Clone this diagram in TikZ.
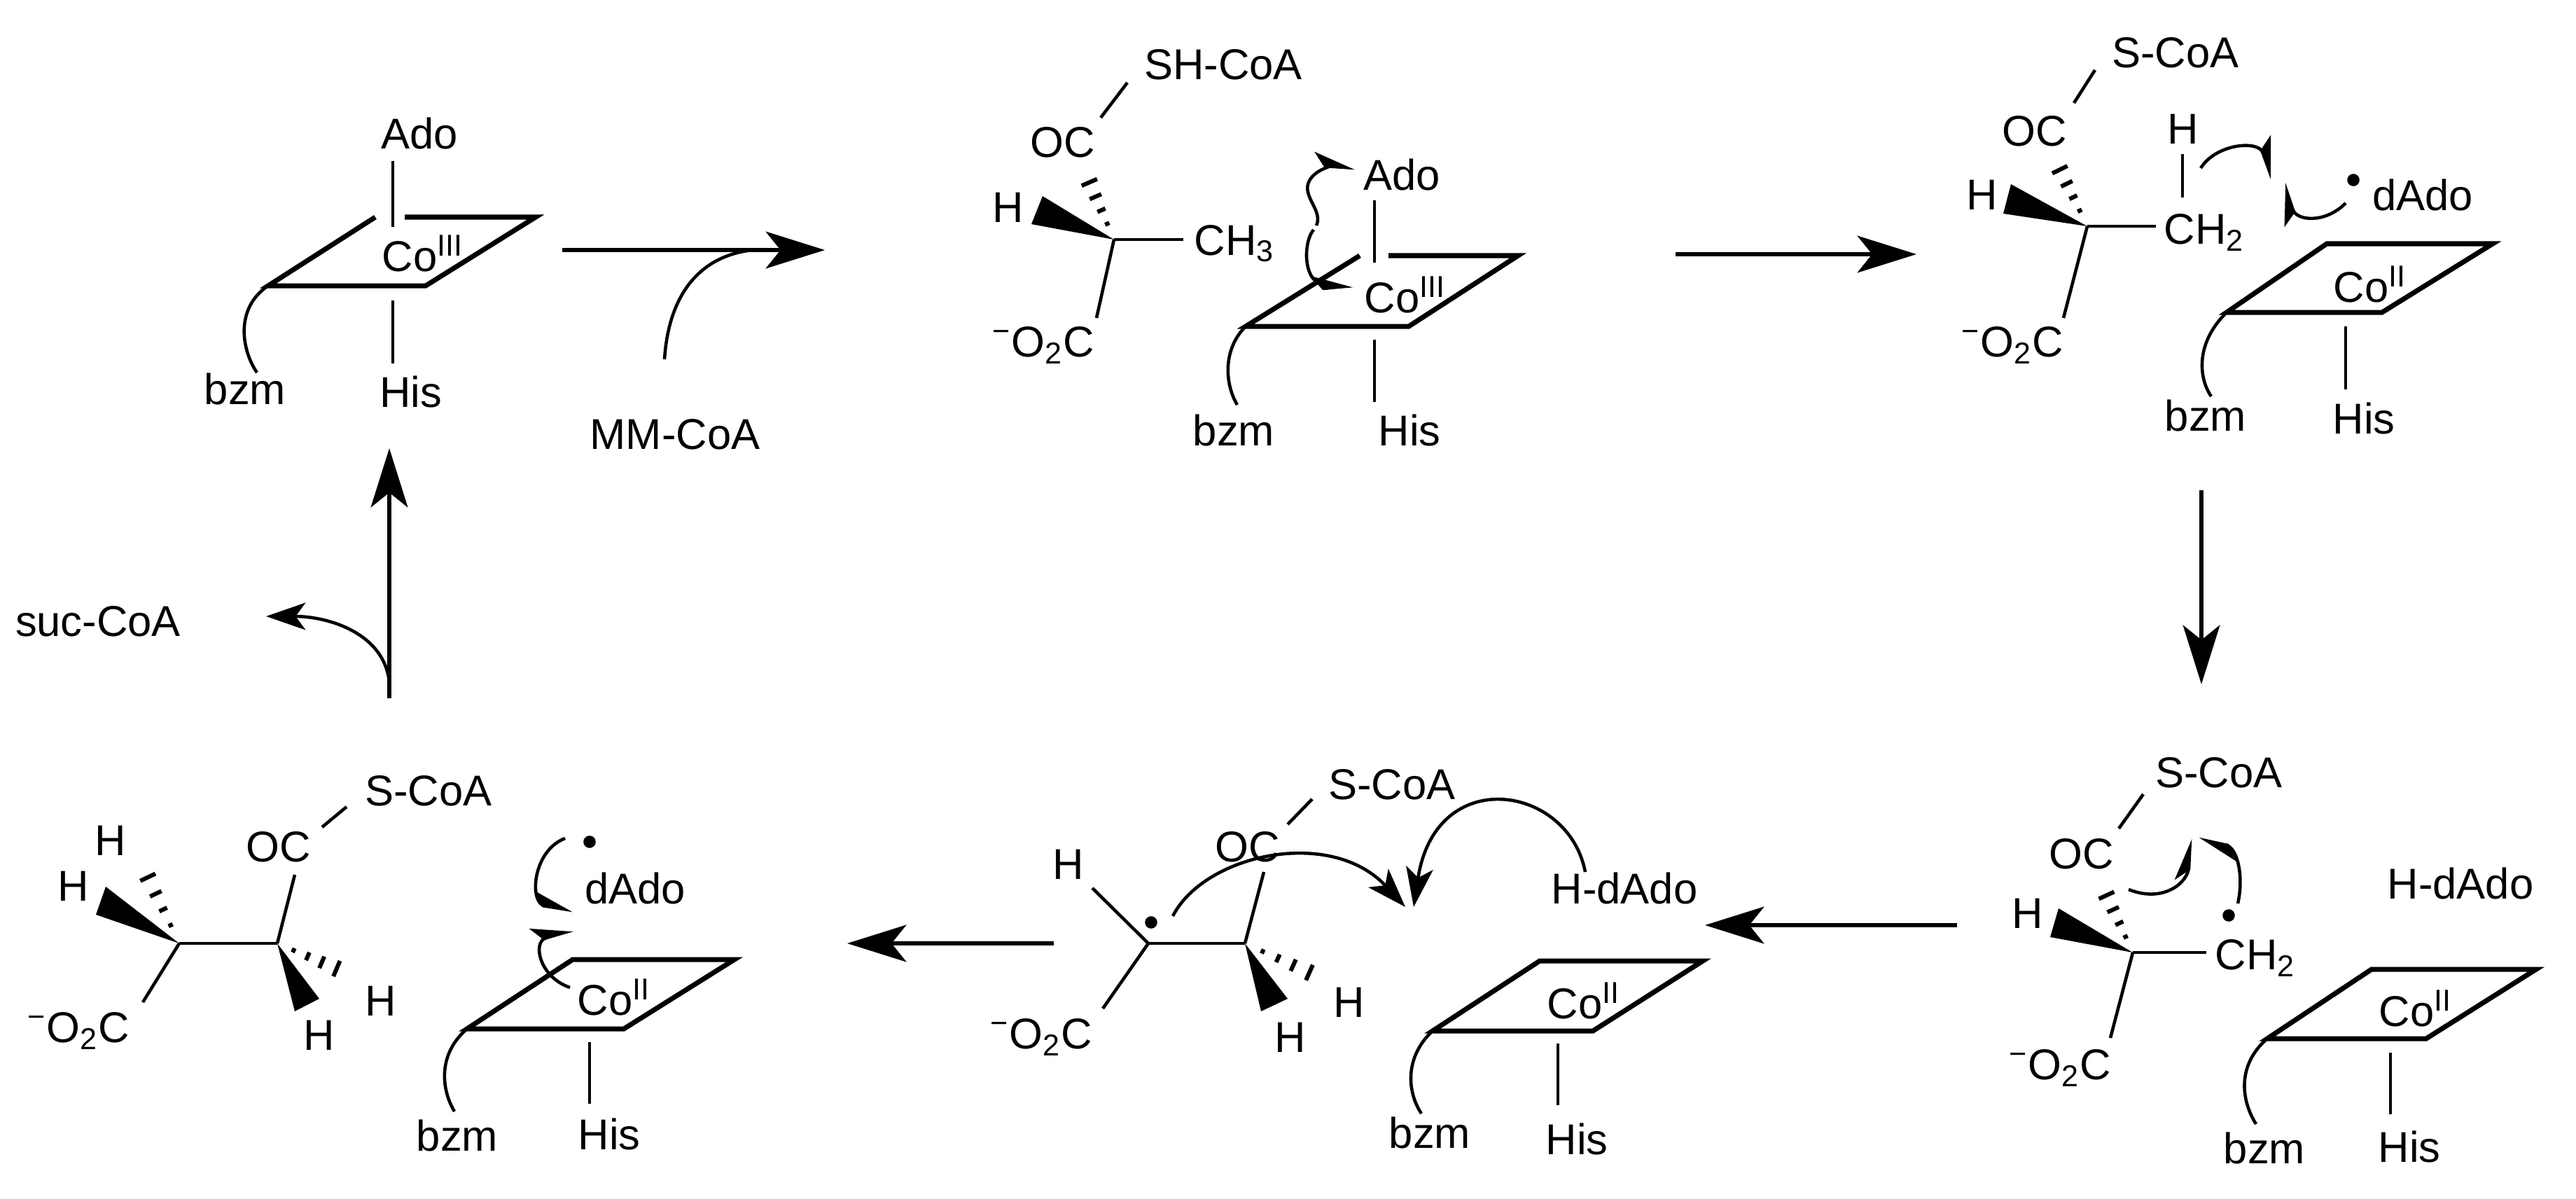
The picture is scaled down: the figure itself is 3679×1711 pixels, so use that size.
\documentclass[tikz,border=0pt]{standalone}
\usepackage{fontspec}
\setmainfont{Liberation Sans}
\usetikzlibrary{arrows.meta,calc}
\newcommand\hashbond[2]{%
 \foreach \t in {0.22,0.41,0.60,0.80,1.0}{%
   \path ($(#1)!\t!(#2)$) coordinate (hp);
   \draw[line width=1.7pt] ($(hp)!\t*0.15cm!90:(#2)$) -- ($(hp)!\t*0.15cm!-90:(#2)$);
 }}
\newcommand\wedgebond[3]{\fill (#1) -- (#2) -- (#3) -- cycle;}
\begin{document}
\begin{tikzpicture}[x=0.01cm,y=-0.01cm,
  txt/.style={inner sep=0pt,font=\fontsize{17.5}{20}\selectfont},
  bond/.style={line width=1.3pt},
  plane/.style={line width=2pt,line join=miter},
  rxn/.style={line width=1.5pt,-{Stealth[length=24pt,width=15pt,inset=6pt]}},
  curly/.style={line width=1.3pt,-{Stealth[length=16pt,width=11pt,inset=4pt]}},
  fish/.style={line width=1.3pt,-{Stealth[harpoon,length=15pt,width=11pt,inset=4pt]}},
  rad/.style={circle,fill,inner sep=0pt,minimum size=5pt}]
\useasboundingbox (0,0) rectangle (3679,1711);

% ===== Structure 1 =====
\node[txt] (ado1) at (599,190) {Ado};
\draw[bond] (561,230) -- (561,324);
\draw[plane] (536,310) -- (383,408) -- (608,408) -- (765,310) -- (578,310);
\node[txt] (co1) at (604,362) {Co\textsuperscript{III}};
\draw[bond] (561,429) -- (561,519);
\node[txt] (his1) at (587,559) {His};
\draw[bond] (383,408) .. controls (335,440) and (345,500) .. (367,532);
\node[txt] (bzm1) at (350,555) {bzm};

% arrow 1 with MM-CoA
\coordinate (a1s) at (803,357); \coordinate (a1e) at (1178,357);
\draw[rxn] (a1s) -- (a1e);
\draw[line width=1.3pt] (949,513) .. controls (955,420) and (1000,365) .. (1075,357);
\node[txt] (mmcoa) at (964,620) {MM-CoA};

% ===== Structure 2 =====
\node[txt] (shcoa) at (1747,92) {SH-CoA};
\node[txt] (oc2) at (1518,203) {OC};
\draw[bond] (1572,168) -- (1610,118);
\coordinate (c2) at (1591,342);
\hashbond{c2}{1547,240}
\node[txt] (h2) at (1440,296) {H};
\wedgebond{c2}{1489,280}{1473,320}
\draw[bond] (c2) -- (1690,342);
\node[txt,anchor=west] (ch3) at (1705,348) {CH\textsubscript{3}};
\draw[bond] (c2) -- (1566,454);
\node[txt] (o2c2) at (1490,493) {\textsuperscript{−}O\textsubscript{2}C};
\node[txt] (ado2) at (2002,249) {Ado};
\draw[bond] (1963,286) -- (1963,375);
\draw[plane] (1942,365) -- (1779,466) -- (2012,466) -- (2168,365) -- (1983,365);
\node[txt] (co2) at (2007,421) {Co\textsuperscript{III}};
\draw[bond] (1963,485) -- (1963,574);
\node[txt] (his2) at (2013,614) {His};
\draw[bond] (1779,466) .. controls (1745,500) and (1750,550) .. (1767,578);
\node[txt] (bzm2) at (1762,614) {bzm};
\draw[fish] (1880,322) .. controls (1890,300) and (1858,280) .. (1870,258) .. controls (1880,240) and (1905,238) .. (1935,240);
\draw[fish] (1876,328) .. controls (1862,345) and (1862,390) .. (1880,402) .. controls (1892,410) and (1910,410) .. (1932,408);

% arrow 2
\coordinate (a2s) at (2393,363); \coordinate (a2e) at (2737,363);
\draw[rxn] (a2s) -- (a2e);

% ===== Structure 3 =====
\node[txt] (scoa3) at (3107,75) {S-CoA};
\node[txt] (oc3) at (2906,187) {OC};
\draw[bond] (2962,147) -- (2992,100);
\coordinate (c3) at (2981,323);
\hashbond{c3}{2932,222}
\node[txt] (h3) at (2831,278) {H};
\wedgebond{c3}{2872,263}{2861,305}
\draw[bond] (c3) -- (3079,323);
\node[txt,anchor=west] (ch23) at (3090,332) {CH\textsubscript{2}};
\node[txt] (hh3) at (3118,184) {H};
\draw[bond] (3117,220) -- (3117,282);
\draw[bond] (c3) -- (2947,454);
\node[txt] (o2c3) at (2874,493) {\textsuperscript{−}O\textsubscript{2}C};
\draw[fish] (3143,240) .. controls (3165,205) and (3225,200) .. (3245,255);
\draw[fish] (3350,290) .. controls (3320,320) and (3280,315) .. (3262,262);
\node[rad] (rad3) at (3361,257) {};
\node[txt] (dado3) at (3460,278) {dAdo};
\draw[plane] (3323,348) -- (3180,446) -- (3402,446) -- (3560,348) -- cycle;
\node[txt] (co3) at (3385,406) {Co\textsuperscript{II}};
\draw[bond] (3350,466) -- (3350,556);
\node[txt] (his3) at (3376,597) {His};
\draw[bond] (3180,446) .. controls (3135,490) and (3140,540) .. (3158,566);
\node[txt] (bzm3) at (3150,593) {bzm};

% arrow 3
\coordinate (a3s) at (3144,700); \coordinate (a3e) at (3144,977);
\draw[rxn] (a3s) -- (a3e);

% ===== Structure 4 =====
\node[txt] (scoa4) at (3169,1103) {S-CoA};
\node[txt] (oc4) at (2973,1219) {OC};
\draw[bond] (3026,1183) -- (3061,1134);
\coordinate (c4) at (3046,1360);
\hashbond{c4}{2999,1258}
\node[txt] (h4) at (2896,1304) {H};
\wedgebond{c4}{2940,1297}{2928,1338}
\draw[bond] (c4) -- (3151,1360);
\node[txt,anchor=west] (ch24) at (3163,1368) {CH\textsubscript{2}};
\node[rad] (rad4) at (3183,1307) {};
\draw[bond] (c4) -- (3014,1482);
\node[txt] (o2c4) at (2942,1525) {\textsuperscript{−}O\textsubscript{2}C};
\draw[fish] (3040,1270) .. controls (3090,1290) and (3125,1260) .. (3128,1198);
\draw[fish] (3196,1290) .. controls (3205,1250) and (3195,1210) .. (3140,1198);
\node[txt] (hdado4) at (3514,1261) {H-dAdo};
\draw[plane] (3387,1384) -- (3238,1483) -- (3465,1483) -- (3622,1384) -- cycle;
\node[txt] (co4) at (3450,1440) {Co\textsuperscript{II}};
\draw[bond] (3414,1503) -- (3414,1591);
\node[txt] (his4) at (3441,1637) {His};
\draw[bond] (3238,1483) .. controls (3195,1520) and (3200,1570) .. (3222,1605);
\node[txt] (bzm4) at (3234,1639) {bzm};

% arrow 4
\coordinate (a4s) at (2795,1321); \coordinate (a4e) at (2435,1321);
\draw[rxn] (a4s) -- (a4e);

% ===== Structure 5 =====
\node[txt] (scoa5) at (1988,1120) {S-CoA};
\node[txt] (oc5) at (1782,1209) {OC};
\draw[bond] (1839,1177) -- (1874,1141);
\coordinate (c5a) at (1640,1347); \coordinate (c5b) at (1778,1347);
\draw[bond] (c5a) -- (c5b);
\draw[bond] (c5b) -- (1805,1245);
\draw[bond] (c5a) -- (1560,1268);
\node[txt] (h5a) at (1526,1234) {H};
\node[rad] (rad5) at (1644,1317) {};
\draw[bond] (c5a) -- (1575,1440);
\node[txt] (o2c5) at (1487,1481) {\textsuperscript{−}O\textsubscript{2}C};
\wedgebond{c5b}{1801,1444}{1839,1426}
\node[txt] (h5b) at (1843,1481) {H};
\hashbond{c5b}{1893,1399}
\node[txt] (h5c) at (1927,1431) {H};
\draw[curly] (1675,1308) .. controls (1720,1220) and (1900,1180) .. (2007,1295);
\draw[curly] (2264,1245) .. controls (2240,1120) and (2050,1090) .. (2019,1295);
\node[txt] (hdado5) at (2320,1268) {H-dAdo};
\draw[plane] (2199,1372) -- (2046,1472) -- (2275,1472) -- (2432,1372) -- cycle;
\node[txt] (co5) at (2262,1429) {Co\textsuperscript{II}};
\draw[bond] (2225,1490) -- (2225,1578);
\node[txt] (his5) at (2252,1626) {His};
\draw[bond] (2046,1472) .. controls (2005,1510) and (2010,1560) .. (2030,1590);
\node[txt] (bzm5) at (2042,1617) {bzm};

% arrow 5
\coordinate (a5s) at (1505,1347); \coordinate (a5e) at (1210,1347);
\draw[rxn] (a5s) -- (a5e);

% ===== Structure 6 =====
\node[txt] (scoa6) at (612,1129) {S-CoA};
\node[txt] (oc6) at (398,1209) {OC};
\draw[bond] (460,1181) -- (495,1152);
\coordinate (c6a) at (256,1347); \coordinate (c6b) at (396,1347);
\draw[bond] (c6a) -- (c6b);
\draw[bond] (c6b) -- (421,1249);
\hashbond{c6a}{200,1229}
\node[txt] (h6a) at (158,1200) {H};
\wedgebond{c6a}{137,1306}{151,1266}
\node[txt] (h6b) at (105,1265) {H};
\draw[bond] (c6a) -- (204,1431);
\node[txt] (o2c6) at (112,1472) {\textsuperscript{−}O\textsubscript{2}C};
\wedgebond{c6b}{421,1444}{456,1426}
\node[txt] (h6c) at (456,1478) {H};
\hashbond{c6b}{502,1392}
\node[txt] (h6d) at (544,1429) {H};
\node[rad] (rad6) at (842,1202) {};
\node[txt] (dado6) at (907,1268) {dAdo};
\draw[fish] (807,1197) .. controls (760,1215) and (755,1290) .. (818,1300);
\draw[fish] (814,1410) .. controls (770,1395) and (760,1345) .. (818,1328);
\draw[plane] (818,1370) -- (667,1469) -- (891,1469) -- (1049,1370) -- cycle;
\node[txt] (co6) at (877,1424) {Co\textsuperscript{II}};
\draw[bond] (842,1488) -- (842,1576);
\node[txt] (his6) at (870,1619) {His};
\draw[bond] (667,1469) .. controls (625,1505) and (630,1555) .. (649,1587);
\node[txt] (bzm6) at (653,1621) {bzm};

% arrow 6 (up) with suc-CoA
\coordinate (a6s) at (556,997); \coordinate (a6e) at (556,640);
\draw[rxn] (a6s) -- (a6e);
\draw[curly] (556,975) .. controls (550,905) and (470,880) .. (380,880);
\node[txt] (succoa) at (140,887) {suc-CoA};
\end{tikzpicture}
\end{document}
